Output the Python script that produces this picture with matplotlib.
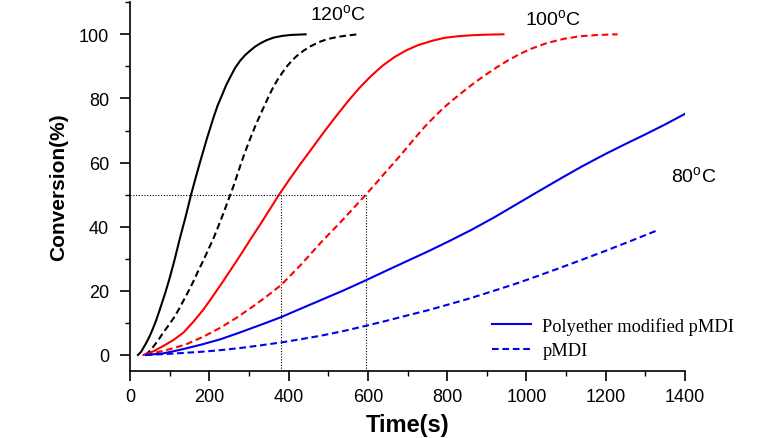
import matplotlib
matplotlib.use("Agg")
import matplotlib.pyplot as plt
from matplotlib.ticker import MultipleLocator

# --- curves: time (s) and conversion (%) ---
t120_mod = [20, 28, 35, 42, 50, 57, 65, 72, 80, 90, 100, 112, 125, 140, 154, 165, 177, 194,
            211, 221, 232, 242, 253, 265, 278, 291, 304, 316, 329, 345, 363, 384, 405, 443]
c120_mod = [0, 1, 2.5, 4, 6, 8, 10.5, 13, 16, 19.8, 24, 29.5, 36, 43, 50, 55, 60.3, 67.5,
            74.2, 77.8, 81, 84, 86.7, 89.5, 91.8, 93.6, 95, 96.2, 97.2, 98.2, 99, 99.5, 99.8, 100]

t120_pm = [38, 46, 55, 70, 84, 97, 110, 122, 135, 148, 160, 172, 185, 198, 211, 223, 235, 244,
           253, 262, 270, 279, 287, 297, 308, 318, 329, 340, 350, 360, 371, 384, 397, 410, 422,
           439, 456, 477, 498, 520, 540, 574]
c120_pm = [0, 0.8, 2, 4.4, 7, 9.2, 11.5, 14, 17, 20, 23, 26.2, 29.5, 33, 36.5, 40.2, 44, 47,
           50, 53, 56, 59.3, 62.2, 65.5, 69, 72, 75, 78, 80.7, 83.2, 85.6, 88, 90.2, 92, 93.4,
           95, 96.3, 97.6, 98.5, 99.1, 99.5, 100]

t100_mod = [34, 60, 84, 110, 135, 160, 186, 211, 236, 259, 282, 305, 329, 352, 376, 403, 430,
            460, 489, 520, 549, 578, 608, 637, 667, 697, 726, 760, 793, 827, 861, 900, 942]
c100_mod = [0, 1.2, 2.8, 4.7, 7, 10.4, 14.3, 18.7, 23.2, 27.5, 31.8, 36.3, 40.8, 45.3, 50, 54.9,
            59.6, 64.6, 69.5, 74.5, 79, 83.2, 87, 90.2, 92.9, 95, 96.6, 97.9, 98.9, 99.4, 99.7,
            99.9, 100]

t100_pm = [40, 84, 115, 143, 185, 228, 270, 312, 345, 381, 430, 481, 540, 595, 618, 641, 667,
           692, 717, 742, 768, 793, 819, 844, 870, 895, 925, 954, 982, 1010, 1052, 1095, 1136,
           1180, 1230]
c100_pm = [0, 1.3, 2.3, 3.4, 5.7, 8.5, 11.7, 15.3, 18.3, 21.8, 28, 35, 42.6, 50, 53.2, 56.5,
           60.1, 63.7, 67.4, 71, 74.3, 77.3, 80, 82.5, 85, 87.2, 89.7, 91.9, 93.8, 95.4, 97.3,
           98.6, 99.4, 99.8, 100]

t80_mod = [40, 84, 115, 143, 185, 228, 270, 312, 345, 381, 430, 481, 540, 595, 645, 692, 750,
           805, 861, 920, 975, 1030, 1090, 1140, 1198, 1250, 1300, 1350, 1400]
c80_mod = [0, 0.5, 1.3, 2.1, 3.4, 4.9, 6.7, 8.6, 10.1, 11.8, 14.4, 17.1, 20.2, 23.3, 26.2,
           28.9, 32.2, 35.5, 39, 43, 47, 51, 55.3, 58.8, 62.6, 65.8, 68.8, 71.9, 75.2]

t80_pm = [40, 90, 130, 180, 228, 280, 329, 381, 430, 481, 540, 595, 645, 692, 750, 805, 861,
          920, 975, 1030, 1090, 1140, 1198, 1260, 1333]
c80_pm = [0, 0.3, 0.6, 1.0, 1.5, 2.2, 3.0, 3.9, 4.9, 6.0, 7.5, 9.1, 10.6, 12.1, 13.9, 15.8,
          17.8, 20.1, 22.3, 24.7, 27.4, 29.7, 32.4, 35.4, 39]

# half-conversion guide lines
t_half = [381, 595]
c_half = 50

plt.rcParams["font.family"] = ["Liberation Sans", "DejaVu Sans"]

fig = plt.figure(figsize=(7.8, 4.39), dpi=100)
ax = fig.add_axes([0.1667, 0.1526, 0.7115, 0.840])

dash = (3.2, 1.8)
blue = "#0000ee"
ax.plot(t120_mod, c120_mod, color="black", lw=1.5)
ax.plot(t120_pm, c120_pm, color="black", lw=1.5, ls=(0, dash))
ax.plot(t100_mod, c100_mod, color="red", lw=1.5)
ax.plot(t100_pm, c100_pm, color="red", lw=1.5, ls=(0, dash))
ax.plot(t80_mod, c80_mod, color=blue, lw=1.5, label="Polyether modified pMDI")
ax.plot(t80_pm, c80_pm, color=blue, lw=1.5, ls=(0, dash), label="pMDI")

# dotted guides at 50 %
ax.plot([0, t_half[1]], [c_half, c_half], color="black", lw=0.8, ls=(0, (1, 1.5)))
for t in t_half:
    ax.plot([t, t], [-5, c_half], color="black", lw=0.8, ls=(0, (1, 1.5)))

ax.text(525, 106.5, "120$^\\mathregular{o}$C", fontsize=14, ha="center", va="center")
ax.text(1066, 105, "100$^\\mathregular{o}$C", fontsize=14, ha="center", va="center")
ax.text(1422, 56, "80$^\\mathregular{o}$C", fontsize=14, ha="center", va="center", clip_on=False)

ax.set_xlim(0, 1400)
ax.set_ylim(-5, 110)
ax.xaxis.set_major_locator(MultipleLocator(200))
ax.xaxis.set_minor_locator(MultipleLocator(100))
ax.yaxis.set_minor_locator(MultipleLocator(10))
ax.set_yticks([0, 20, 40, 60, 80, 100])
ax.tick_params(which="major", direction="out", length=7, width=1.2, labelsize=13)
ax.tick_params(axis="x", which="major", pad=5)
ax.tick_params(axis="y", which="major", pad=8)
ax.tick_params(which="minor", direction="out", length=3.5, width=1.0)
for s in ["top", "right"]:
    ax.spines[s].set_visible(False)
for s in ["left", "bottom"]:
    ax.spines[s].set_linewidth(1.2)

ax.set_xlabel("Time(s)", fontsize=17, fontweight="bold", labelpad=6)
ax.set_ylabel("Conversion(%)", fontsize=15, fontweight="bold", labelpad=8)

leg = ax.legend(loc="upper left", bbox_to_anchor=(492 / 780, 1 - 318 / 439),
                bbox_transform=fig.transFigure, frameon=False,
                prop={"family": "Liberation Serif", "size": 13.2},
                handlelength=2.1, handletextpad=0.65, labelspacing=0.4,
                borderpad=0, borderaxespad=0)

fig.savefig("out.png", dpi=100)
